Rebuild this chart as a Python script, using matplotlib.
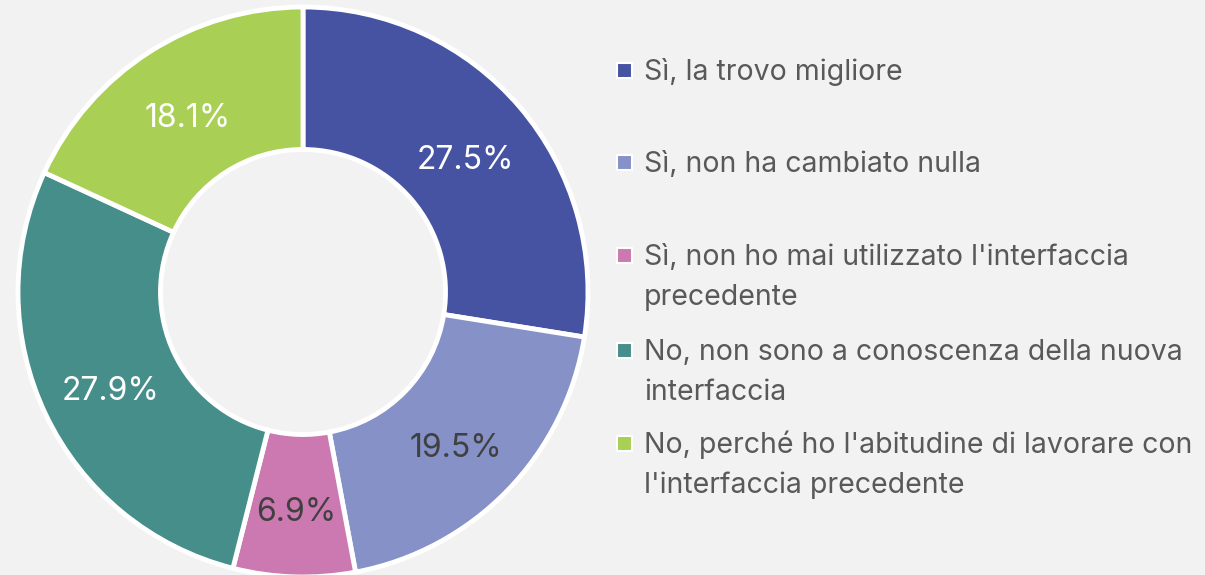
import numpy as np
import matplotlib.pyplot as plt
from matplotlib.patches import Rectangle
from matplotlib.transforms import offset_copy

labels = ["Sì, la trovo migliore",
          "Sì, non ha cambiato nulla",
          "Sì, non ho mai utilizzato l'interfaccia\nprecedente",
          "No, non sono a conoscenza della nuova\ninterfaccia",
          "No, perché ho l'abitudine di lavorare con\nl'interfaccia precedente"]
values = [27.5, 19.5, 6.9, 27.9, 18.1]
colors = ["#4653A2", "#8591C7", "#CB79B0", "#468E8A", "#A9CF54"]
pct_colors = ["white", "#404040", "#404040", "white", "white"]

plt.rcParams['font.family'] = ['Inter', 'DejaVu Sans']
bg = "#F2F2F2"

fig = plt.figure(figsize=(12.05, 5.75), dpi=100, facecolor=bg)
W, H = 1205, 575
cx, cy, r = 303, 292, 285
ax = fig.add_axes([(cx - r) / W, (H - cy - r) / H, 2 * r / W, 2 * r / H])
ax.set_facecolor(bg)

wedges, texts = ax.pie(values, colors=colors, startangle=90, counterclock=False,
                       radius=1.0,
                       wedgeprops=dict(width=0.5, edgecolor="white", linewidth=3.5))
# percentage labels in the middle of each ring segment (nudged down a bit)
lab_tr = offset_copy(ax.transData, fig=fig, x=0, y=-7, units="dots")
total = sum(values)
ang = 90.0
for v, c in zip(values, pct_colors):
    mid = np.deg2rad(ang - v / total * 360 / 2)
    ang -= v / total * 360
    ax.text(0.75 * np.cos(mid), 0.75 * np.sin(mid), f"{v:.1f}%",
            ha="center", va="center", fontsize=23, color=c, transform=lab_tr)
ax.set_xlim(-1, 1)
ax.set_ylim(-1, 1)
ax.set_aspect("equal")
ax.axis("off")

# legend drawn by hand so wrapped labels keep the marker on the first line
y_first = [70, 162, 255, 350, 443]
for lab, col, yy in zip(labels, colors, y_first):
    fig.patches.append(Rectangle((617 / W, (H - yy - 8) / H), 15 / W, 15 / H,
                                 transform=fig.transFigure, facecolor=col,
                                 edgecolor="white", linewidth=1.5))
    for k, line in enumerate(lab.split("\n")):
        fig.text(644 / W, (H - yy - 10 - 40 * k) / H, line, ha="left",
                 va="baseline", fontsize=20.5, color="#595959",
                 transform=fig.transFigure)

plt.savefig("out.png", dpi=100, facecolor=bg)
